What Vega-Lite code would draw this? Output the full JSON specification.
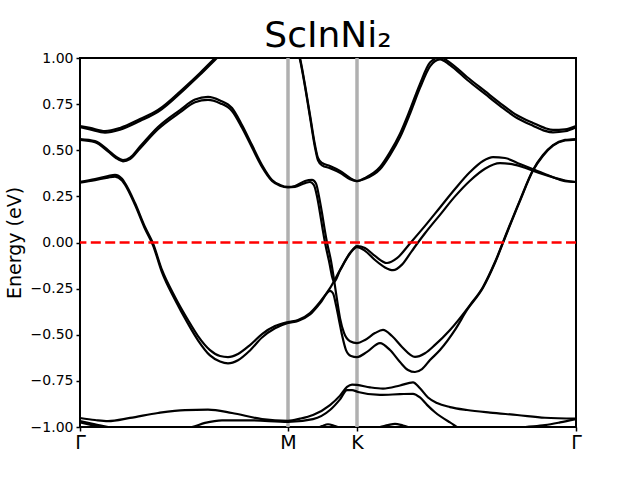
{
  "$schema": "https://vega.github.io/schema/vega-lite/v6.json",
  "width": 496,
  "height": 369,
  "autosize": {"type": "none"},
  "padding": {"left": 80, "top": 58, "right": 64, "bottom": 53},
  "background": "white",
  "config": {"view": {"stroke": "black", "strokeWidth": 2}, "font": "DejaVu Sans"},
  "title": {"text": "ScInNi₂", "fontSize": 36, "font": "DejaVu Sans", "fontWeight": "normal", "color": "black", "offset": -4, "anchor": "middle"},
  "datasets": {
    "bands": [
      {"b":"A1","k":0,"E":0.631},{"b":"A1","k":10,"E":0.621},{"b":"A1","k":25,"E":0.604},{"b":"A1","k":40,"E":0.621},{"b":"A1","k":60,"E":0.669},{"b":"A1","k":78,"E":0.718},{"b":"A1","k":105,"E":0.843},{"b":"A1","k":120,"E":0.919},{"b":"A1","k":135,"E":1.0},{"b":"A1","k":150,"E":1.08},{"b":"A1","k":170,"E":1.2},{"b":"A1","k":200,"E":1.3},{"b":"A1","k":210,"E":1.25},{"b":"A1","k":216,"E":1.08},{"b":"A1","k":220,"E":1.0},{"b":"A1","k":225,"E":0.854},{"b":"A1","k":230,"E":0.691},{"b":"A1","k":235,"E":0.528},{"b":"A1","k":238,"E":0.458},{"b":"A1","k":242,"E":0.431},{"b":"A1","k":250,"E":0.415},{"b":"A1","k":260,"E":0.388},{"b":"A1","k":270,"E":0.35},{"b":"A1","k":277,"E":0.333},{"b":"A1","k":285,"E":0.35},{"b":"A1","k":300,"E":0.409},{"b":"A1","k":310,"E":0.49},{"b":"A1","k":320,"E":0.59},{"b":"A1","k":330,"E":0.72},{"b":"A1","k":340,"E":0.86},{"b":"A1","k":350,"E":0.975},{"b":"A1","k":360,"E":1.005},{"b":"A1","k":370,"E":0.975},{"b":"A1","k":387,"E":0.897},{"b":"A1","k":405,"E":0.82},{"b":"A1","k":420,"E":0.756},{"b":"A1","k":437,"E":0.69},{"b":"A1","k":453,"E":0.648},{"b":"A1","k":465,"E":0.62},{"b":"A1","k":473,"E":0.61},{"b":"A1","k":485,"E":0.613},{"b":"A1","k":496,"E":0.631},
      {"b":"A2","k":0,"E":0.625},{"b":"A2","k":10,"E":0.613},{"b":"A2","k":25,"E":0.596},{"b":"A2","k":40,"E":0.612},{"b":"A2","k":60,"E":0.659},{"b":"A2","k":78,"E":0.708},{"b":"A2","k":105,"E":0.833},{"b":"A2","k":120,"E":0.909},{"b":"A2","k":135,"E":0.99},{"b":"A2","k":150,"E":1.07},{"b":"A2","k":170,"E":1.19},{"b":"A2","k":200,"E":1.29},{"b":"A2","k":210,"E":1.24},{"b":"A2","k":216,"E":1.07},{"b":"A2","k":220,"E":0.99},{"b":"A2","k":225,"E":0.845},{"b":"A2","k":230,"E":0.68},{"b":"A2","k":235,"E":0.515},{"b":"A2","k":238,"E":0.445},{"b":"A2","k":242,"E":0.418},{"b":"A2","k":250,"E":0.403},{"b":"A2","k":260,"E":0.378},{"b":"A2","k":270,"E":0.343},{"b":"A2","k":277,"E":0.333},{"b":"A2","k":285,"E":0.345},{"b":"A2","k":300,"E":0.397},{"b":"A2","k":310,"E":0.474},{"b":"A2","k":320,"E":0.57},{"b":"A2","k":330,"E":0.698},{"b":"A2","k":340,"E":0.838},{"b":"A2","k":350,"E":0.955},{"b":"A2","k":360,"E":0.993},{"b":"A2","k":370,"E":0.962},{"b":"A2","k":387,"E":0.882},{"b":"A2","k":405,"E":0.805},{"b":"A2","k":420,"E":0.741},{"b":"A2","k":437,"E":0.675},{"b":"A2","k":453,"E":0.633},{"b":"A2","k":465,"E":0.605},{"b":"A2","k":473,"E":0.597},{"b":"A2","k":485,"E":0.603},{"b":"A2","k":496,"E":0.625},
      {"b":"B1","k":0,"E":0.561},{"b":"B1","k":15,"E":0.55},{"b":"B1","k":28,"E":0.501},{"b":"B1","k":36,"E":0.465},{"b":"B1","k":43,"E":0.447},{"b":"B1","k":50,"E":0.46},{"b":"B1","k":60,"E":0.52},{"b":"B1","k":78,"E":0.626},{"b":"B1","k":100,"E":0.718},{"b":"B1","k":115,"E":0.775},{"b":"B1","k":128,"E":0.789},{"b":"B1","k":140,"E":0.77},{"b":"B1","k":152,"E":0.729},{"b":"B1","k":162,"E":0.637},{"b":"B1","k":172,"E":0.528},{"b":"B1","k":182,"E":0.42},{"b":"B1","k":192,"E":0.339},{"b":"B1","k":200,"E":0.312},{"b":"B1","k":208,"E":0.301},{"b":"B1","k":215,"E":0.306},{"b":"B1","k":225,"E":0.333},{"b":"B1","k":232,"E":0.339},{"b":"B1","k":236,"E":0.32},{"b":"B1","k":239,"E":0.25},{"b":"B1","k":242,"E":0.16},{"b":"B1","k":245,"E":0.06},{"b":"B1","k":247,"E":0.0},{"b":"B1","k":251,"E":-0.1},{"b":"B1","k":254,"E":-0.2},{"b":"B1","k":257,"E":-0.31},{"b":"B1","k":260,"E":-0.41},{"b":"B1","k":264,"E":-0.49},{"b":"B1","k":270,"E":-0.535},{"b":"B1","k":277,"E":-0.545},{"b":"B1","k":285,"E":-0.528},{"b":"B1","k":295,"E":-0.491},{"b":"B1","k":303,"E":-0.474},{"b":"B1","k":312,"E":-0.507},{"b":"B1","k":322,"E":-0.566},{"b":"B1","k":335,"E":-0.62},{"b":"B1","k":345,"E":-0.6},{"b":"B1","k":355,"E":-0.555},{"b":"B1","k":370,"E":-0.474},{"b":"B1","k":390,"E":-0.339},{"b":"B1","k":403,"E":-0.241},{"b":"B1","k":415,"E":-0.106},{"b":"B1","k":427,"E":0.057},{"b":"B1","k":440,"E":0.23},{"b":"B1","k":453,"E":0.393},{"b":"B1","k":463,"E":0.474},{"b":"B1","k":473,"E":0.528},{"b":"B1","k":485,"E":0.556},{"b":"B1","k":496,"E":0.561},
      {"b":"B2","k":0,"E":0.556},{"b":"B2","k":15,"E":0.543},{"b":"B2","k":28,"E":0.494},{"b":"B2","k":36,"E":0.458},{"b":"B2","k":43,"E":0.44},{"b":"B2","k":50,"E":0.452},{"b":"B2","k":60,"E":0.51},{"b":"B2","k":78,"E":0.614},{"b":"B2","k":100,"E":0.705},{"b":"B2","k":115,"E":0.76},{"b":"B2","k":128,"E":0.773},{"b":"B2","k":140,"E":0.755},{"b":"B2","k":152,"E":0.713},{"b":"B2","k":162,"E":0.622},{"b":"B2","k":172,"E":0.515},{"b":"B2","k":182,"E":0.41},{"b":"B2","k":192,"E":0.334},{"b":"B2","k":200,"E":0.308},{"b":"B2","k":208,"E":0.299},{"b":"B2","k":215,"E":0.301},{"b":"B2","k":225,"E":0.322},{"b":"B2","k":230,"E":0.328},{"b":"B2","k":234,"E":0.31},{"b":"B2","k":237,"E":0.25},{"b":"B2","k":240,"E":0.16},{"b":"B2","k":243,"E":0.06},{"b":"B2","k":245,"E":0.0},{"b":"B2","k":249,"E":-0.1},{"b":"B2","k":254,"E":-0.215},{"b":"B2","k":260,"E":-0.152},{"b":"B2","k":270,"E":-0.06},{"b":"B2","k":277,"E":-0.025},{"b":"B2","k":285,"E":-0.045},{"b":"B2","k":295,"E":-0.095},{"b":"B2","k":305,"E":-0.135},{"b":"B2","k":313,"E":-0.15},{"b":"B2","k":322,"E":-0.12},{"b":"B2","k":332,"E":-0.045},{"b":"B2","k":338,"E":0.0},{"b":"B2","k":345,"E":0.05},{"b":"B2","k":360,"E":0.15},{"b":"B2","k":375,"E":0.25},{"b":"B2","k":390,"E":0.335},{"b":"B2","k":405,"E":0.4},{"b":"B2","k":420,"E":0.43},{"b":"B2","k":432,"E":0.425},{"b":"B2","k":445,"E":0.405},{"b":"B2","k":460,"E":0.375},{"b":"B2","k":475,"E":0.35},{"b":"B2","k":485,"E":0.336},{"b":"B2","k":496,"E":0.328},
      {"b":"C1","k":0,"E":0.328},{"b":"C1","k":15,"E":0.344},{"b":"C1","k":28,"E":0.36},{"b":"C1","k":35,"E":0.366},{"b":"C1","k":42,"E":0.345},{"b":"C1","k":45,"E":0.322},{"b":"C1","k":55,"E":0.214},{"b":"C1","k":65,"E":0.084},{"b":"C1","k":73,"E":-0.005},{"b":"C1","k":82,"E":-0.149},{"b":"C1","k":95,"E":-0.295},{"b":"C1","k":108,"E":-0.42},{"b":"C1","k":118,"E":-0.507},{"b":"C1","k":130,"E":-0.583},{"b":"C1","k":140,"E":-0.615},{"b":"C1","k":148,"E":-0.621},{"b":"C1","k":158,"E":-0.604},{"b":"C1","k":170,"E":-0.556},{"b":"C1","k":182,"E":-0.496},{"b":"C1","k":195,"E":-0.453},{"b":"C1","k":208,"E":-0.431},{"b":"C1","k":218,"E":-0.42},{"b":"C1","k":230,"E":-0.382},{"b":"C1","k":240,"E":-0.322},{"b":"C1","k":250,"E":-0.247},{"b":"C1","k":260,"E":-0.149},{"b":"C1","k":270,"E":-0.057},{"b":"C1","k":277,"E":-0.019},{"b":"C1","k":285,"E":-0.03},{"b":"C1","k":295,"E":-0.073},{"b":"C1","k":307,"E":-0.111},{"b":"C1","k":317,"E":-0.085},{"b":"C1","k":330,"E":-0.005},{"b":"C1","k":345,"E":0.09},{"b":"C1","k":360,"E":0.19},{"b":"C1","k":375,"E":0.29},{"b":"C1","k":390,"E":0.382},{"b":"C1","k":403,"E":0.442},{"b":"C1","k":413,"E":0.463},{"b":"C1","k":425,"E":0.458},{"b":"C1","k":440,"E":0.425},{"b":"C1","k":455,"E":0.393},{"b":"C1","k":470,"E":0.36},{"b":"C1","k":485,"E":0.333},{"b":"C1","k":496,"E":0.328},
      {"b":"C2","k":0,"E":0.325},{"b":"C2","k":15,"E":0.338},{"b":"C2","k":28,"E":0.352},{"b":"C2","k":35,"E":0.357},{"b":"C2","k":42,"E":0.336},{"b":"C2","k":45,"E":0.313},{"b":"C2","k":55,"E":0.204},{"b":"C2","k":65,"E":0.074},{"b":"C2","k":73,"E":-0.015},{"b":"C2","k":82,"E":-0.162},{"b":"C2","k":95,"E":-0.31},{"b":"C2","k":108,"E":-0.44},{"b":"C2","k":118,"E":-0.53},{"b":"C2","k":130,"E":-0.612},{"b":"C2","k":140,"E":-0.645},{"b":"C2","k":148,"E":-0.655},{"b":"C2","k":158,"E":-0.638},{"b":"C2","k":170,"E":-0.585},{"b":"C2","k":182,"E":-0.515},{"b":"C2","k":195,"E":-0.465},{"b":"C2","k":208,"E":-0.436},{"b":"C2","k":218,"E":-0.425},{"b":"C2","k":230,"E":-0.39},{"b":"C2","k":240,"E":-0.33},{"b":"C2","k":250,"E":-0.262},{"b":"C2","k":253,"E":-0.275},{"b":"C2","k":256,"E":-0.339},{"b":"C2","k":259,"E":-0.42},{"b":"C2","k":262,"E":-0.501},{"b":"C2","k":266,"E":-0.583},{"b":"C2","k":271,"E":-0.615},{"b":"C2","k":277,"E":-0.621},{"b":"C2","k":287,"E":-0.593},{"b":"C2","k":300,"E":-0.545},{"b":"C2","k":310,"E":-0.583},{"b":"C2","k":320,"E":-0.648},{"b":"C2","k":328,"E":-0.691},{"b":"C2","k":335,"E":-0.702},{"b":"C2","k":342,"E":-0.686},{"b":"C2","k":350,"E":-0.637},{"b":"C2","k":360,"E":-0.583},{"b":"C2","k":375,"E":-0.474},{"b":"C2","k":387,"E":-0.366},{"b":"C2","k":403,"E":-0.245},{"b":"C2","k":415,"E":-0.11},{"b":"C2","k":427,"E":0.053},{"b":"C2","k":440,"E":0.226},{"b":"C2","k":453,"E":0.39},{"b":"C2","k":463,"E":0.47},{"b":"C2","k":473,"E":0.525},{"b":"C2","k":485,"E":0.553},{"b":"C2","k":496,"E":0.558},
      {"b":"D1","k":0,"E":-0.951},{"b":"D1","k":15,"E":-0.962},{"b":"D1","k":28,"E":-0.968},{"b":"D1","k":50,"E":-0.951},{"b":"D1","k":78,"E":-0.924},{"b":"D1","k":105,"E":-0.908},{"b":"D1","k":128,"E":-0.906},{"b":"D1","k":152,"E":-0.924},{"b":"D1","k":182,"E":-0.957},{"b":"D1","k":208,"E":-0.966},{"b":"D1","k":220,"E":-0.955},{"b":"D1","k":233,"E":-0.935},{"b":"D1","k":250,"E":-0.881},{"b":"D1","k":260,"E":-0.83},{"b":"D1","k":267,"E":-0.783},{"b":"D1","k":272,"E":-0.77},{"b":"D1","k":277,"E":-0.772},{"b":"D1","k":290,"E":-0.785},{"b":"D1","k":303,"E":-0.792},{"b":"D1","k":320,"E":-0.775},{"b":"D1","k":333,"E":-0.758},{"b":"D1","k":340,"E":-0.79},{"b":"D1","k":348,"E":-0.84},{"b":"D1","k":357,"E":-0.87},{"b":"D1","k":370,"E":-0.892},{"b":"D1","k":387,"E":-0.908},{"b":"D1","k":410,"E":-0.922},{"b":"D1","k":437,"E":-0.935},{"b":"D1","k":465,"E":-0.95},{"b":"D1","k":496,"E":-0.955},
      {"b":"D2","k":0,"E":-0.968},{"b":"D2","k":15,"E":-0.985},{"b":"D2","k":28,"E":-1.0},{"b":"D2","k":50,"E":-1.02},{"b":"D2","k":80,"E":-1.02},{"b":"D2","k":100,"E":-1.01},{"b":"D2","k":112,"E":-1.0},{"b":"D2","k":125,"E":-0.978},{"b":"D2","k":142,"E":-0.964},{"b":"D2","k":170,"E":-0.964},{"b":"D2","k":208,"E":-0.972},{"b":"D2","k":233,"E":-0.957},{"b":"D2","k":250,"E":-0.908},{"b":"D2","k":260,"E":-0.85},{"b":"D2","k":267,"E":-0.8},{"b":"D2","k":272,"E":-0.8},{"b":"D2","k":278,"E":-0.81},{"b":"D2","k":300,"E":-0.826},{"b":"D2","k":320,"E":-0.822},{"b":"D2","k":333,"E":-0.82},{"b":"D2","k":340,"E":-0.84},{"b":"D2","k":347,"E":-0.88},{"b":"D2","k":355,"E":-0.92},{"b":"D2","k":370,"E":-0.975},{"b":"D2","k":385,"E":-1.02},{"b":"D2","k":420,"E":-1.03},{"b":"D2","k":440,"E":-1.005},{"b":"D2","k":465,"E":-0.99},{"b":"D2","k":480,"E":-0.975},{"b":"D2","k":496,"E":-0.957},
      {"b":"E1","k":200,"E":-1.02},{"b":"E1","k":235,"E":-1.01},{"b":"E1","k":242,"E":-0.995},{"b":"E1","k":248,"E":-0.985},{"b":"E1","k":255,"E":-0.995},{"b":"E1","k":265,"E":-1.01},{"b":"E1","k":285,"E":-1.012},{"b":"E1","k":300,"E":-1.0},{"b":"E1","k":308,"E":-0.99},{"b":"E1","k":315,"E":-0.983},{"b":"E1","k":323,"E":-0.992},{"b":"E1","k":335,"E":-1.01},{"b":"E1","k":360,"E":-1.02},
      {"b":"E2","k":0,"E":-0.975},{"b":"E2","k":12,"E":-0.99},{"b":"E2","k":25,"E":-1.005},{"b":"E2","k":40,"E":-1.02}
    ]
  },
  "layer": [
    {
      "data": {"values": [{"k": 208}, {"k": 277}]},
      "mark": {"type": "rule", "color": "#b0b0b0", "strokeWidth": 3.5},
      "encoding": {
        "x": {"field": "k", "type": "quantitative", "scale": {"domain": [0, 496], "nice": false, "zero": false}, "axis": {"values": [0, 208, 277, 496], "labelExpr": "datum.value == 208 ? 'M' : datum.value == 277 ? 'K' : 'Γ'", "title": null, "grid": false, "domain": false, "labelFontSize": 19, "labelColor": "black", "tickColor": "black", "tickWidth": 1.5, "tickSize": 4, "labelPadding": 2, "labelFlush": false}}
      }
    },
    {
      "data": {"name": "bands"},
      "mark": {"type": "line", "clip": true, "strokeWidth": 2.2, "color": "black", "interpolate": "monotone"},
      "encoding": {
        "x": {"field": "k", "type": "quantitative", "scale": {"domain": [0, 496], "nice": false, "zero": false}, "axis": {"values": [0, 208, 277, 496], "labelExpr": "datum.value == 208 ? 'M' : datum.value == 277 ? 'K' : 'Γ'", "title": null, "grid": false, "domain": false, "labelFontSize": 19, "labelColor": "black", "tickColor": "black", "tickWidth": 1.5, "tickSize": 4, "labelPadding": 2, "labelFlush": false}},
        "y": {"field": "E", "type": "quantitative", "scale": {"domain": [-1, 1], "nice": false, "zero": false}, "axis": {"values": [-1, -0.75, -0.5, -0.25, 0, 0.25, 0.5, 0.75, 1], "format": ".2f", "title": "Energy (eV)", "titleFontSize": 19, "titleFontWeight": "normal", "titleColor": "black", "titlePadding": 6, "grid": false, "domain": false, "labelFontSize": 14, "labelColor": "black", "tickColor": "black", "tickWidth": 1.5, "tickSize": 4, "labelPadding": 3, "labelFlush": false}},
        "detail": {"field": "b", "type": "nominal"}
      }
    },
    {
      "data": {"values": [{"E": 0}]},
      "mark": {"type": "rule", "color": "#ff0000", "strokeWidth": 2.5, "strokeDash": [10, 4.4]},
      "encoding": {
        "y": {"field": "E", "type": "quantitative", "scale": {"domain": [-1, 1], "nice": false, "zero": false}, "axis": {"values": [-1, -0.75, -0.5, -0.25, 0, 0.25, 0.5, 0.75, 1], "format": ".2f", "title": "Energy (eV)", "titleFontSize": 19, "titleFontWeight": "normal", "titleColor": "black", "titlePadding": 6, "grid": false, "domain": false, "labelFontSize": 14, "labelColor": "black", "tickColor": "black", "tickWidth": 1.5, "tickSize": 4, "labelPadding": 3, "labelFlush": false}}
      }
    }
  ]
}
